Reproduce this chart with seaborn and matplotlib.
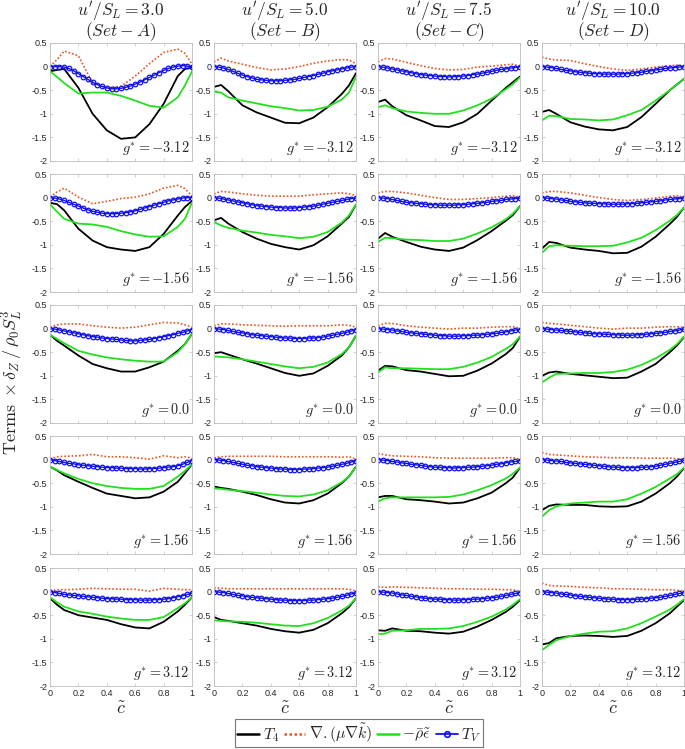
import numpy as np
import matplotlib
matplotlib.use("Agg")
import matplotlib.pyplot as plt
from matplotlib.lines import Line2D
import seaborn as sns

sns.set_theme(style="ticks")
plt.rcParams["font.family"] = ["Liberation Sans", "DejaVu Sans"]
plt.rcParams["mathtext.fontset"] = "cm"

# x grids (c-tilde)
X_LINE = [0.0, 0.05, 0.1, 0.2, 0.3, 0.4, 0.5, 0.6, 0.7, 0.8, 0.9, 0.95, 1.0]
X_TV = list(np.linspace(0.0, 1.0, 31))

SETS = ["A", "B", "C", "D"]
U_SL = ["3.0", "5.0", "7.5", "10.0"]
G_STAR = ["-3.12", "-1.56", "0.0", "1.56", "3.12"]

# ---- Set A (u'/S_L = 3.0), one row per g* ----
T4_A = [
    [-0.10, -0.07, -0.05, -0.45, -1.0, -1.35, -1.53, -1.5, -1.22, -0.79, -0.2, -0.05, -0.02],
    [-0.11, -0.14, -0.27, -0.66, -0.91, -1.05, -1.1, -1.13, -1.05, -0.77, -0.38, -0.2, -0.07],
    [-0.13, -0.26, -0.36, -0.57, -0.75, -0.84, -0.91, -0.91, -0.82, -0.7, -0.47, -0.33, -0.11],
    [-0.15, -0.23, -0.33, -0.47, -0.6, -0.72, -0.77, -0.82, -0.8, -0.68, -0.47, -0.29, -0.1],
    [-0.14, -0.28, -0.39, -0.5, -0.55, -0.6, -0.69, -0.76, -0.78, -0.64, -0.42, -0.28, -0.12],
]
DIFF_A = [
    [0.0, 0.15, 0.33, 0.23, -0.35, -0.45, -0.42, -0.2, 0.06, 0.3, 0.37, 0.28, 0.05],
    [0.01, 0.12, 0.2, 0.01, -0.13, -0.08, -0.02, 0.01, 0.08, 0.2, 0.26, 0.19, 0.03],
    [0.03, 0.08, 0.1, 0.1, 0.06, 0.03, 0.01, 0.03, 0.08, 0.13, 0.12, 0.08, 0.03],
    [0.01, 0.06, 0.07, 0.08, 0.11, 0.06, 0.06, 0.04, 0.01, 0.08, 0.04, 0.06, 0.03],
    [0.02, 0.04, 0.04, 0.05, 0.07, 0.06, 0.05, 0.05, 0.01, 0.07, 0.05, 0.04, 0.04],
]
EPS_A = [
    [-0.10, -0.22, -0.35, -0.57, -0.55, -0.55, -0.62, -0.72, -0.83, -0.87, -0.65, -0.4, -0.1],
    [-0.14, -0.3, -0.45, -0.55, -0.57, -0.62, -0.71, -0.78, -0.83, -0.82, -0.62, -0.45, -0.11],
    [-0.13, -0.22, -0.31, -0.47, -0.55, -0.61, -0.65, -0.68, -0.7, -0.7, -0.5, -0.33, -0.11],
    [-0.15, -0.22, -0.29, -0.41, -0.5, -0.56, -0.6, -0.62, -0.62, -0.56, -0.36, -0.24, -0.1],
    [-0.12, -0.23, -0.32, -0.42, -0.47, -0.53, -0.57, -0.6, -0.6, -0.54, -0.35, -0.25, -0.12],
]
TV_A = [
    [0, 0, 0, -0.01, -0.04, -0.09, -0.15, -0.21, -0.27, -0.33, -0.38, -0.42, -0.45, -0.47, -0.47, -0.46,
     -0.44, -0.41, -0.37, -0.33, -0.28, -0.23, -0.18, -0.13, -0.08, -0.04, -0.01, 0.01, 0.02, 0.01, 0.0],
    [0, -0.01, -0.03, -0.06, -0.1, -0.14, -0.18, -0.22, -0.26, -0.29, -0.31, -0.33, -0.34, -0.34, -0.34, -0.33,
     -0.32, -0.3, -0.28, -0.25, -0.22, -0.19, -0.16, -0.13, -0.1, -0.07, -0.05, -0.03, -0.01, 0.0, 0.0],
    [0, -0.01, -0.03, -0.05, -0.07, -0.09, -0.11, -0.13, -0.15, -0.17, -0.18, -0.2, -0.21, -0.22, -0.23, -0.24,
     -0.25, -0.26, -0.26, -0.25, -0.24, -0.23, -0.21, -0.19, -0.17, -0.15, -0.13, -0.1, -0.08, -0.05, -0.02],
    [0, -0.02, -0.04, -0.06, -0.08, -0.09, -0.11, -0.12, -0.13, -0.14, -0.15, -0.16, -0.17, -0.17, -0.18, -0.18,
     -0.19, -0.19, -0.19, -0.2, -0.2, -0.19, -0.19, -0.18, -0.17, -0.16, -0.15, -0.13, -0.1, -0.06, -0.02],
    [0, -0.02, -0.04, -0.06, -0.07, -0.08, -0.09, -0.1, -0.11, -0.12, -0.13, -0.14, -0.15, -0.15, -0.16, -0.16,
     -0.17, -0.17, -0.17, -0.18, -0.18, -0.18, -0.17, -0.17, -0.16, -0.15, -0.13, -0.11, -0.09, -0.06, -0.03],
]

# ---- Set B (u'/S_L = 5.0) ----
T4_B = [
    [-0.43, -0.39, -0.52, -0.82, -0.97, -1.08, -1.19, -1.2, -1.08, -0.86, -0.58, -0.4, -0.14],
    [-0.48, -0.43, -0.55, -0.73, -0.87, -0.98, -1.05, -1.1, -1.01, -0.82, -0.55, -0.41, -0.15],
    [-0.52, -0.5, -0.55, -0.65, -0.74, -0.84, -0.94, -1.0, -0.95, -0.79, -0.57, -0.4, -0.15],
    [-0.57, -0.6, -0.62, -0.68, -0.75, -0.84, -0.91, -0.93, -0.86, -0.72, -0.5, -0.36, -0.15],
    [-0.54, -0.6, -0.62, -0.67, -0.72, -0.79, -0.84, -0.87, -0.81, -0.67, -0.46, -0.33, -0.14],
]
DIFF_B = [
    [0.1, 0.18, 0.12, 0.05, -0.02, -0.07, -0.05, 0.0, 0.07, 0.12, 0.15, 0.14, 0.06],
    [0.08, 0.13, 0.12, 0.08, 0.05, 0.03, 0.03, 0.03, 0.06, 0.08, 0.1, 0.08, 0.04],
    [0.06, 0.1, 0.1, 0.08, 0.07, 0.06, 0.05, 0.06, 0.06, 0.06, 0.08, 0.07, 0.03],
    [0.04, 0.06, 0.07, 0.07, 0.07, 0.07, 0.06, 0.06, 0.06, 0.06, 0.05, 0.06, 0.01],
    [0.08, 0.07, 0.06, 0.06, 0.06, 0.06, 0.06, 0.06, 0.06, 0.06, 0.06, 0.05, 0.01],
]
EPS_B = [
    [-0.53, -0.55, -0.65, -0.72, -0.78, -0.84, -0.88, -0.93, -0.92, -0.85, -0.7, -0.55, -0.22],
    [-0.52, -0.59, -0.64, -0.7, -0.74, -0.79, -0.82, -0.86, -0.83, -0.73, -0.53, -0.38, -0.15],
    [-0.59, -0.6, -0.61, -0.65, -0.7, -0.75, -0.8, -0.84, -0.81, -0.72, -0.54, -0.4, -0.15],
    [-0.61, -0.62, -0.64, -0.67, -0.7, -0.74, -0.77, -0.78, -0.74, -0.65, -0.48, -0.36, -0.15],
    [-0.61, -0.62, -0.63, -0.64, -0.66, -0.69, -0.72, -0.73, -0.67, -0.56, -0.4, -0.3, -0.14],
]
TV_B = [
    [0, -0.01, -0.03, -0.06, -0.1, -0.14, -0.18, -0.21, -0.24, -0.27, -0.28, -0.29, -0.3, -0.3, -0.3, -0.29,
     -0.28, -0.27, -0.25, -0.23, -0.21, -0.19, -0.16, -0.14, -0.11, -0.09, -0.07, -0.05, -0.03, -0.01, 0.0],
    [0, -0.01, -0.03, -0.05, -0.07, -0.09, -0.11, -0.13, -0.15, -0.17, -0.18, -0.19, -0.2, -0.21, -0.21, -0.22,
     -0.22, -0.22, -0.21, -0.2, -0.19, -0.18, -0.16, -0.14, -0.12, -0.1, -0.08, -0.06, -0.04, -0.02, -0.01],
    [0, -0.01, -0.02, -0.04, -0.06, -0.08, -0.09, -0.11, -0.13, -0.14, -0.15, -0.16, -0.17, -0.18, -0.19, -0.2,
     -0.2, -0.21, -0.21, -0.21, -0.2, -0.2, -0.19, -0.18, -0.16, -0.14, -0.12, -0.1, -0.08, -0.05, -0.02],
    [0, -0.01, -0.02, -0.04, -0.06, -0.08, -0.1, -0.12, -0.13, -0.15, -0.16, -0.17, -0.18, -0.19, -0.2, -0.2,
     -0.21, -0.21, -0.21, -0.2, -0.2, -0.19, -0.18, -0.17, -0.16, -0.14, -0.12, -0.1, -0.08, -0.05, -0.02],
    [0, -0.01, -0.02, -0.04, -0.06, -0.08, -0.09, -0.11, -0.12, -0.13, -0.14, -0.15, -0.16, -0.17, -0.18, -0.18,
     -0.19, -0.19, -0.19, -0.19, -0.18, -0.18, -0.17, -0.16, -0.15, -0.14, -0.12, -0.1, -0.08, -0.05, -0.03],
]

# ---- Set C (u'/S_L = 7.5) ----
T4_C = [
    [-0.75, -0.7, -0.84, -1.03, -1.14, -1.26, -1.28, -1.18, -1.0, -0.72, -0.45, -0.33, -0.21],
    [-0.87, -0.75, -0.83, -0.94, -1.04, -1.1, -1.13, -1.06, -0.9, -0.71, -0.49, -0.37, -0.18],
    [-0.89, -0.79, -0.8, -0.88, -0.91, -0.96, -1.01, -1.0, -0.89, -0.74, -0.54, -0.41, -0.17],
    [-0.8, -0.77, -0.77, -0.84, -0.86, -0.89, -0.93, -0.91, -0.82, -0.7, -0.5, -0.38, -0.17],
    [-0.82, -0.83, -0.78, -0.83, -0.84, -0.87, -0.89, -0.85, -0.74, -0.6, -0.43, -0.32, -0.18],
]
DIFF_C = [
    [0.1, 0.17, 0.16, 0.09, 0.02, -0.04, -0.07, -0.06, -0.01, 0.01, 0.04, 0.05, 0.01],
    [0.1, 0.13, 0.13, 0.1, 0.05, 0.0, -0.04, -0.04, -0.02, 0.0, 0.03, 0.04, 0.01],
    [0.06, 0.11, 0.11, 0.06, 0.03, 0.01, -0.01, 0.01, 0.01, 0.03, 0.04, 0.04, 0.01],
    [0.13, 0.1, 0.08, 0.07, 0.06, 0.04, 0.03, 0.03, 0.03, 0.03, 0.04, 0.04, 0.01],
    [0.1, 0.09, 0.1, 0.09, 0.08, 0.07, 0.06, 0.06, 0.05, 0.05, 0.04, 0.04, 0.01],
]
EPS_C = [
    [-0.86, -0.82, -0.88, -0.95, -0.98, -1.0, -1.0, -0.93, -0.82, -0.68, -0.48, -0.37, -0.23],
    [-0.94, -0.85, -0.86, -0.89, -0.9, -0.92, -0.92, -0.87, -0.76, -0.63, -0.46, -0.34, -0.18],
    [-0.93, -0.82, -0.84, -0.84, -0.85, -0.86, -0.86, -0.81, -0.72, -0.6, -0.43, -0.33, -0.17],
    [-0.89, -0.82, -0.8, -0.8, -0.8, -0.8, -0.79, -0.74, -0.65, -0.54, -0.4, -0.3, -0.17],
    [-0.9, -0.89, -0.83, -0.82, -0.79, -0.79, -0.78, -0.73, -0.64, -0.53, -0.38, -0.28, -0.16],
]
TV_C = [
    [0, -0.01, -0.03, -0.05, -0.07, -0.09, -0.11, -0.13, -0.15, -0.17, -0.18, -0.19, -0.2, -0.21, -0.21, -0.22,
     -0.21, -0.21, -0.2, -0.19, -0.17, -0.16, -0.14, -0.12, -0.1, -0.08, -0.06, -0.05, -0.03, -0.02, 0.0],
    [0, -0.01, -0.02, -0.04, -0.06, -0.08, -0.1, -0.11, -0.12, -0.13, -0.14, -0.15, -0.15, -0.16, -0.16, -0.16,
     -0.16, -0.15, -0.15, -0.14, -0.13, -0.12, -0.11, -0.1, -0.08, -0.07, -0.06, -0.04, -0.03, -0.02, -0.01],
    [0, -0.01, -0.02, -0.03, -0.05, -0.06, -0.08, -0.09, -0.1, -0.11, -0.12, -0.13, -0.14, -0.15, -0.15, -0.16,
     -0.16, -0.16, -0.15, -0.15, -0.14, -0.14, -0.13, -0.12, -0.11, -0.1, -0.08, -0.07, -0.05, -0.03, -0.02],
    [0, -0.01, -0.02, -0.04, -0.05, -0.07, -0.08, -0.1, -0.11, -0.12, -0.14, -0.15, -0.16, -0.16, -0.17, -0.17,
     -0.18, -0.17, -0.17, -0.16, -0.16, -0.15, -0.14, -0.13, -0.12, -0.1, -0.09, -0.07, -0.05, -0.04, -0.02],
    [0, -0.01, -0.02, -0.03, -0.05, -0.07, -0.08, -0.1, -0.11, -0.13, -0.14, -0.15, -0.16, -0.16, -0.17, -0.17,
     -0.18, -0.18, -0.17, -0.17, -0.16, -0.16, -0.15, -0.14, -0.13, -0.12, -0.1, -0.08, -0.06, -0.04, -0.02],
]

# ---- Set D (u'/S_L = 10.0) ----
T4_D = [
    [-0.96, -0.92, -1.0, -1.18, -1.27, -1.33, -1.35, -1.28, -1.07, -0.79, -0.5, -0.38, -0.26],
    [-1.08, -0.94, -0.96, -1.06, -1.1, -1.13, -1.18, -1.17, -1.04, -0.83, -0.56, -0.41, -0.21],
    [-1.0, -0.93, -0.91, -0.96, -0.99, -1.02, -1.05, -1.04, -0.91, -0.75, -0.5, -0.36, -0.18],
    [-1.07, -0.98, -0.95, -0.96, -0.96, -0.99, -1.0, -0.99, -0.89, -0.72, -0.5, -0.36, -0.18],
    [-1.12, -1.09, -0.99, -0.94, -0.93, -0.94, -0.96, -0.94, -0.83, -0.67, -0.46, -0.32, -0.18],
]
DIFF_D = [
    [0.2, 0.16, 0.14, 0.13, 0.06, 0.0, -0.05, -0.08, -0.05, -0.01, 0.02, 0.03, 0.01],
    [0.1, 0.13, 0.13, 0.1, 0.05, 0.0, -0.04, -0.06, -0.04, -0.01, 0.03, 0.04, 0.01],
    [0.13, 0.11, 0.1, 0.07, 0.04, 0.01, -0.01, 0.01, 0.01, 0.03, 0.04, 0.04, 0.03],
    [0.15, 0.11, 0.1, 0.08, 0.06, 0.05, 0.04, 0.04, 0.03, 0.03, 0.03, 0.02, 0.01],
    [0.18, 0.13, 0.12, 0.11, 0.09, 0.08, 0.06, 0.06, 0.05, 0.04, 0.04, 0.03, 0.01],
]
EPS_D = [
    [-1.14, -1.04, -1.05, -1.11, -1.12, -1.14, -1.12, -1.03, -0.92, -0.72, -0.5, -0.38, -0.26],
    [-1.17, -1.03, -1.01, -1.02, -1.03, -1.03, -1.02, -0.95, -0.85, -0.69, -0.49, -0.37, -0.21],
    [-1.14, -1.04, -0.96, -0.95, -0.94, -0.94, -0.92, -0.87, -0.77, -0.63, -0.45, -0.33, -0.17],
    [-1.21, -1.07, -0.99, -0.93, -0.91, -0.89, -0.89, -0.84, -0.72, -0.58, -0.4, -0.31, -0.17],
    [-1.24, -1.13, -1.03, -0.94, -0.89, -0.85, -0.84, -0.78, -0.67, -0.53, -0.38, -0.28, -0.16],
]
TV_D = [
    [0, -0.01, -0.02, -0.04, -0.06, -0.08, -0.09, -0.11, -0.12, -0.13, -0.14, -0.15, -0.15, -0.16, -0.16, -0.16,
     -0.16, -0.15, -0.15, -0.14, -0.13, -0.12, -0.1, -0.09, -0.07, -0.06, -0.04, -0.03, -0.02, -0.01, 0.0],
    [0, -0.01, -0.02, -0.03, -0.05, -0.06, -0.08, -0.09, -0.1, -0.11, -0.12, -0.12, -0.13, -0.13, -0.14, -0.14,
     -0.14, -0.14, -0.13, -0.13, -0.12, -0.11, -0.1, -0.09, -0.08, -0.07, -0.05, -0.04, -0.03, -0.02, -0.01],
    [0, -0.01, -0.02, -0.03, -0.04, -0.05, -0.06, -0.07, -0.08, -0.09, -0.1, -0.11, -0.11, -0.12, -0.12, -0.13,
     -0.13, -0.14, -0.14, -0.14, -0.13, -0.13, -0.12, -0.11, -0.1, -0.09, -0.08, -0.06, -0.05, -0.03, -0.01],
    [0, -0.01, -0.02, -0.03, -0.04, -0.06, -0.07, -0.08, -0.09, -0.1, -0.11, -0.12, -0.13, -0.14, -0.15, -0.16,
     -0.16, -0.17, -0.17, -0.17, -0.17, -0.16, -0.16, -0.15, -0.14, -0.12, -0.1, -0.08, -0.06, -0.04, -0.01],
    [0, -0.01, -0.02, -0.03, -0.05, -0.06, -0.07, -0.09, -0.1, -0.11, -0.12, -0.13, -0.14, -0.15, -0.16, -0.16,
     -0.17, -0.17, -0.17, -0.17, -0.16, -0.16, -0.15, -0.14, -0.13, -0.12, -0.1, -0.08, -0.06, -0.04, -0.02],
]

T4 = [T4_A, T4_B, T4_C, T4_D]
DIFF = [DIFF_A, DIFF_B, DIFF_C, DIFF_D]
EPS = [EPS_A, EPS_B, EPS_C, EPS_D]
TV = [TV_A, TV_B, TV_C, TV_D]

C_T4 = "black"
C_DIFF = "#E8541F"
C_EPS = "#22E01E"
C_TV = "#1010F0"
SPINE = "#BDBDBD"

W, H = 685, 749
fig = plt.figure(figsize=(W / 100, H / 100), dpi=100)

col_left = [50, 214, 378, 542]
row_top = [43, 174, 305, 436, 568]
ax_w, ax_h = 142, 118

for j in range(4):
    for i in range(5):
        ax = fig.add_axes([col_left[j] / W, (H - row_top[i] - ax_h) / H, ax_w / W, ax_h / H])

        sns.lineplot(x=X_LINE, y=T4[j][i], ax=ax, color=C_T4, lw=1.3, estimator=None)
        sns.lineplot(x=X_LINE, y=DIFF[j][i], ax=ax, color=C_DIFF, lw=1.2, ls=(0, (1, 1.2)), estimator=None)
        sns.lineplot(x=X_LINE, y=EPS[j][i], ax=ax, color=C_EPS, lw=1.3, estimator=None)
        sns.lineplot(x=X_TV, y=TV[j][i], ax=ax, color=C_TV, lw=1.0, estimator=None,
                     marker="o", markersize=3.3, markerfacecolor="none",
                     markeredgecolor=C_TV, markeredgewidth=0.9)

        ax.set_xlim(0, 1)
        ax.set_ylim(-2, 0.5)
        ax.set_xticks([0, 0.2, 0.4, 0.6, 0.8, 1.0])
        ax.set_yticks([0.5, 0, -0.5, -1, -1.5, -2])
        ax.set_yticklabels(["0.5", "0", "-0.5", "-1", "-1.5", "-2"])
        ax.tick_params(direction="in", length=2.5, width=0.5, color=SPINE,
                       labelsize=6.5, labelcolor="#262626", pad=2,
                       top=True, right=True)
        for s in ax.spines.values():
            s.set_color(SPINE)
            s.set_linewidth(0.6)

        if i == 4:
            ax.set_xticklabels(["0", "0.2", "0.4", "0.6", "0.8", "1"])
            ax.set_xlabel(r"$\tilde{c}$", fontsize=13, labelpad=2)
        else:
            ax.set_xticklabels([])
            ax.set_xlabel("")
        ax.set_ylabel("")

        if i == 0:
            ax.set_title(r"$u'/S_L = %s$" % U_SL[j] + "\n" + r"$(Set-%s)$" % SETS[j],
                         fontsize=12.5, pad=1, linespacing=0.82)

        ax.text(0.985, -1.72, r"$g^{*} = %s$" % G_STAR[i], ha="right", va="center", fontsize=10.3)

fig.text(0.018, 0.49, r"$\mathrm{Terms}\ \times \delta_Z\,/\,\rho_0 S_L^3$",
         rotation=90, ha="center", va="center", fontsize=13)

handles = [
    Line2D([], [], color=C_T4, lw=1.8),
    Line2D([], [], color=C_DIFF, lw=1.8, ls=(0, (1, 1))),
    Line2D([], [], color=C_EPS, lw=1.8),
    Line2D([], [], color=C_TV, lw=1.3, marker="o", markersize=4, markerfacecolor="none",
           markeredgewidth=1.2),
]
labels = [r"$T_4$", r"$\nabla.(\mu\nabla\tilde{k})$", r"$-\bar{\rho}\tilde{\epsilon}$", r"$T_V$"]
leg = fig.legend(handles, labels, loc="lower center", bbox_to_anchor=(359 / W, 0.0), ncol=4,
                 fontsize=11.3, frameon=True, fancybox=False, edgecolor="#555555",
                 handlelength=1.4, handletextpad=0.2, columnspacing=0.3, borderpad=0.15,
                 borderaxespad=0.1)
leg.get_frame().set_linewidth(0.8)

fig.savefig("out.png", dpi=100, facecolor="white")
